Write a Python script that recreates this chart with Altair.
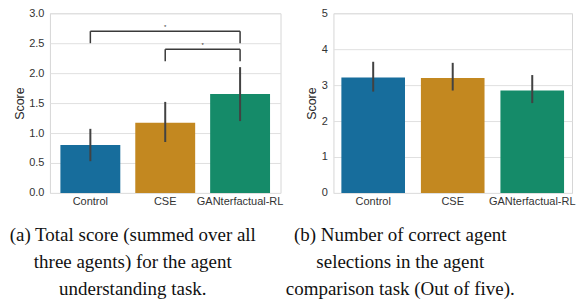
import altair as alt
import pandas as pd

categories = ["Control", "CSE", "GANterfactual-RL"]
bar_colors = ["#176d9c", "#c38820", "#158b69"]

# Panel (a): total score
score_a = [0.80, 1.17, 1.65]
lo_a = [0.53, 0.85, 1.20]
hi_a = [1.07, 1.52, 2.10]

# Panel (b): correct selections
score_b = [3.21, 3.20, 2.85]
lo_b = [2.82, 2.85, 2.50]
hi_b = [3.65, 3.62, 3.28]

# significance brackets in panel (a)
brk_start = ["Control", "CSE"]
brk_end = ["GANterfactual-RL", "GANterfactual-RL"]
brk_top = [2.7, 2.4]
brk_low = [2.5, 2.2]
star_pos = ["CSE", "GANterfactual-RL"]

ticks_a = [0, 0.5, 1.0, 1.5, 2.0, 2.5, 3.0]
ticks_b = [0, 1, 2, 3, 4, 5]

cap_a = ["(a) Total score (summed over all", "three agents) for the agent", "understanding task."]
cap_b = ["(b) Number of correct agent", "selections in the agent", "comparison task (Out of five)."]

df_a = pd.DataFrame({"cat": categories, "score": score_a, "lo": lo_a, "hi": hi_a})
df_b = pd.DataFrame({"cat": categories, "score": score_b, "lo": lo_b, "hi": hi_b})
df_brk = pd.DataFrame({"start": brk_start, "end": brk_end, "top": brk_top, "low": brk_low})
df_star = pd.DataFrame({"pos": star_pos, "top": brk_top})

ERR = "#424242"
BRK = "#3a3a3a"


def yaxis(ticks, fmt):
    return alt.Axis(values=ticks, format=fmt, labelPadding=6, titlePadding=2.5,
                    labelOverlap=False, title="Score")


def xaxis():
    return alt.Axis(labelAngle=0, labelPadding=3, title=None)


def panel(df, ymax, ticks, fmt, caption, cap_dx, width, pad_outer):
    xscale = alt.Scale(domain=categories, paddingInner=0.2, paddingOuter=pad_outer)
    yscale = alt.Scale(domain=[0, ymax], nice=False)
    ax = yaxis(ticks, fmt)
    base = alt.Chart(df)
    bars = base.mark_bar().encode(
        x=alt.X("cat:N", sort=categories, scale=xscale, axis=xaxis()),
        y=alt.Y("score:Q", scale=yscale, axis=ax),
        color=alt.Color("cat:N", scale=alt.Scale(domain=categories, range=bar_colors), legend=None),
    )
    err = base.mark_rule(color=ERR, strokeWidth=2).encode(
        x=alt.X("cat:N", sort=categories, axis=xaxis()),
        y=alt.Y("lo:Q", axis=ax), y2="hi:Q")
    props = dict(
        width=width, height=180,
        title=alt.TitleParams(text=caption, orient="bottom", anchor="middle",
                              font="Liberation Serif", fontSize=19, fontWeight="normal",
                              lineHeight=27, dx=cap_dx, offset=19, color="#111111"),
    )
    return [bars, err], ax, props


layers_a, ax_a, props_a = panel(df_a, 3.0, ticks_a, ".1f", cap_a, -32.5, 231, 0.14)

bb = alt.Chart(df_brk)
brk_h = bb.mark_rule(color=BRK, strokeWidth=1.5).encode(
    x=alt.X("start:N", sort=categories, axis=xaxis()), x2="end:N", y=alt.Y("top:Q", axis=ax_a))
brk_l = bb.mark_rule(color=BRK, strokeWidth=1.5).encode(
    x=alt.X("start:N", sort=categories, axis=xaxis()), y=alt.Y("low:Q", axis=ax_a), y2="top:Q")
brk_r = bb.mark_rule(color=BRK, strokeWidth=1.5).encode(
    x=alt.X("end:N", sort=categories, axis=xaxis()), y=alt.Y("low:Q", axis=ax_a), y2="top:Q")
# first star centered over CSE, second midway between CSE and GANterfactual-RL
star_a = alt.Chart(df_star.iloc[[0]]).mark_text(
    text="*", fontSize=6, font="Liberation Sans", color="#333333", baseline="alphabetic", dy=-2.6
).encode(x=alt.X("pos:N", sort=categories, axis=xaxis()), y=alt.Y("top:Q", axis=ax_a))
star_b = alt.Chart(df_star.iloc[[1]]).mark_text(
    text="*", fontSize=6, font="Liberation Sans", color="#333333", baseline="alphabetic", dy=-2.6, dx=-37.5
).encode(x=alt.X("pos:N", sort=categories, axis=xaxis()), y=alt.Y("top:Q", axis=ax_a))

chart_a = alt.layer(*layers_a, brk_h, brk_l, brk_r, star_a, star_b).properties(**props_a)

layers_b, ax_b, props_b = panel(df_b, 5, ticks_b, "d", cap_b, -52.5, 239, 0.1)
chart_b = alt.layer(*layers_b).properties(**props_b)

chart = alt.hconcat(chart_a, chart_b, spacing=53, bounds="flush").properties(
    padding={"left": 0, "top": -2, "right": 0, "bottom": 0}
).configure_view(stroke="#d6d6d6", strokeWidth=1).configure_axis(
    grid=True, gridColor="#e0e0e0", gridWidth=1, domain=False, ticks=False,
    labelFont="Liberation Sans", labelFontSize=11, labelColor="#333333",
    titleFont="Liberation Sans", titleFontSize=12.5, titleColor="#262626", titleFontWeight="normal",
).configure_axisX(grid=False)

chart.save("out.html", embed_options={"renderer": "svg", "actions": False})
